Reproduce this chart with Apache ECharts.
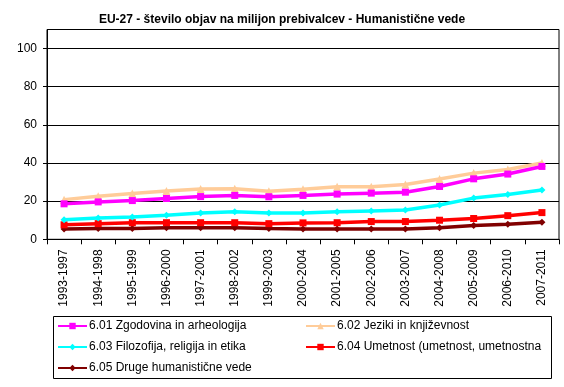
<!DOCTYPE html>
<html>
<head>
<meta charset="utf-8">
<script src="https://cdn.jsdelivr.net/npm/echarts@6/dist/echarts.min.js"></script>
<style>html,body{margin:0;padding:0;background:#fff}#c{width:564px;height:387px}</style>
</head>
<body>
<div id="c"></div>
<script>
const categories = ['1993-1997','1994-1998','1995-1999','1996-2000','1997-2001','1998-2002','1999-2003','2000-2004','2001-2005','2002-2006','2003-2007','2004-2008','2005-2009','2006-2010','2007-2011'];
const names = ['6.01 Zgodovina in arheologija','6.02 Jeziki in književnost','6.03 Filozofija, religija in etika','6.04 Umetnost (umetnost, umetnostna','6.05 Druge humanistične vede'];
const s601 = [18.6, 19.6, 20.3, 21.4, 22.4, 23.0, 22.3, 23.0, 23.7, 24.2, 24.7, 27.7, 31.7, 34.2, 38.2];
const s602 = [20.8, 22.6, 24.0, 25.3, 26.4, 26.5, 25.2, 26.3, 27.5, 27.5, 28.7, 31.6, 34.7, 36.6, 40.0];
const s603 = [10.2, 11.2, 11.7, 12.6, 13.8, 14.4, 13.8, 13.8, 14.4, 14.9, 15.4, 18.0, 21.6, 23.5, 25.8];
const s604 = [7.6, 8.2, 8.7, 8.7, 8.7, 8.7, 8.2, 8.6, 8.7, 9.3, 9.3, 10.0, 10.9, 12.4, 14.0];
const s605 = [5.4, 5.6, 5.6, 6.1, 6.1, 6.1, 5.6, 5.4, 5.4, 5.4, 5.4, 6.1, 7.2, 7.9, 8.9];
const yTicks = [0, 20, 40, 60, 80, 100];

const colors = ['#FF00FF', '#FFCC99', '#00FFFF', '#FF0000', '#800000'];
const symbols = ['rect', 'triangle', 'diamond', 'rect', 'diamond'];
const sizes = [7, 8, 7, 7, 7];
const data = [s601, s602, s603, s604, s605];

const chart = echarts.init(document.getElementById('c'));
const legendBase = {
  orient: 'vertical', top: 319, padding: 0, itemWidth: 29, itemHeight: 8, itemGap: 7,
  textStyle: { fontFamily: 'Liberation Sans, Arial', fontSize: 12, color: '#000', lineHeight: 14, padding: [0,0,0,-3] }
};
chart.setOption({
  animation: false,
  backgroundColor: '#fff',
  title: {
    text: 'EU-27 - število objav na milijon prebivalcev - Humanistične vede',
    left: 'center', top: 9,
    textStyle: { fontFamily: 'Liberation Sans, Arial', fontSize: 12, fontWeight: 'bold', color: '#000' }
  },
  grid: { left: 47, top: 29.5, right: 5, bottom: 147.7, show: true, borderColor: '#000', borderWidth: 1, backgroundColor: 'transparent' },
  legend: [
    Object.assign({}, legendBase, { left: 57, data: [names[0], names[2], names[4]] }),
    Object.assign({}, legendBase, { left: 305, data: [names[1], names[3]] })
  ],
  graphic: [{ type: 'rect', shape: { x: 53.5, y: 316.5, width: 498, height: 62 }, style: { fill: 'none', stroke: '#000', lineWidth: 1 }, z: 0 }],
  xAxis: {
    type: 'category', data: categories, boundaryGap: true,
    axisLine: { lineStyle: { color: '#000', width: 1 } },
    axisTick: { show: true, length: 5, interval: 0, lineStyle: { color: '#000' } },
    axisLabel: { rotate: 90, interval: 0, margin: 10, fontFamily: 'Liberation Sans, Arial', fontSize: 12, color: '#000' },
    splitLine: { show: false }
  },
  yAxis: {
    type: 'value', min: 0, max: 110, interval: 20,
    axisLine: { show: true, lineStyle: { color: '#000', width: 1 } },
    axisTick: { show: true, length: 4, lineStyle: { color: '#000' } },
    axisLabel: { margin: 10, fontFamily: 'Liberation Sans, Arial', fontSize: 12, color: '#000', showMaxLabel: false,
      formatter: v => (yTicks.indexOf(v) >= 0 ? String(v) : '') },
    splitLine: { show: true, lineStyle: { color: '#000', width: 1 } }
  },
  series: data.map((d, i) => ({
    name: names[i], type: 'line', data: d,
    symbol: symbols[i], symbolSize: sizes[i], showAllSymbol: true,
    lineStyle: { color: colors[i], width: 3.5 },
    itemStyle: { color: colors[i], borderWidth: 0 },
    z: 10 - i
  }))
});
</script>
</body>
</html>
